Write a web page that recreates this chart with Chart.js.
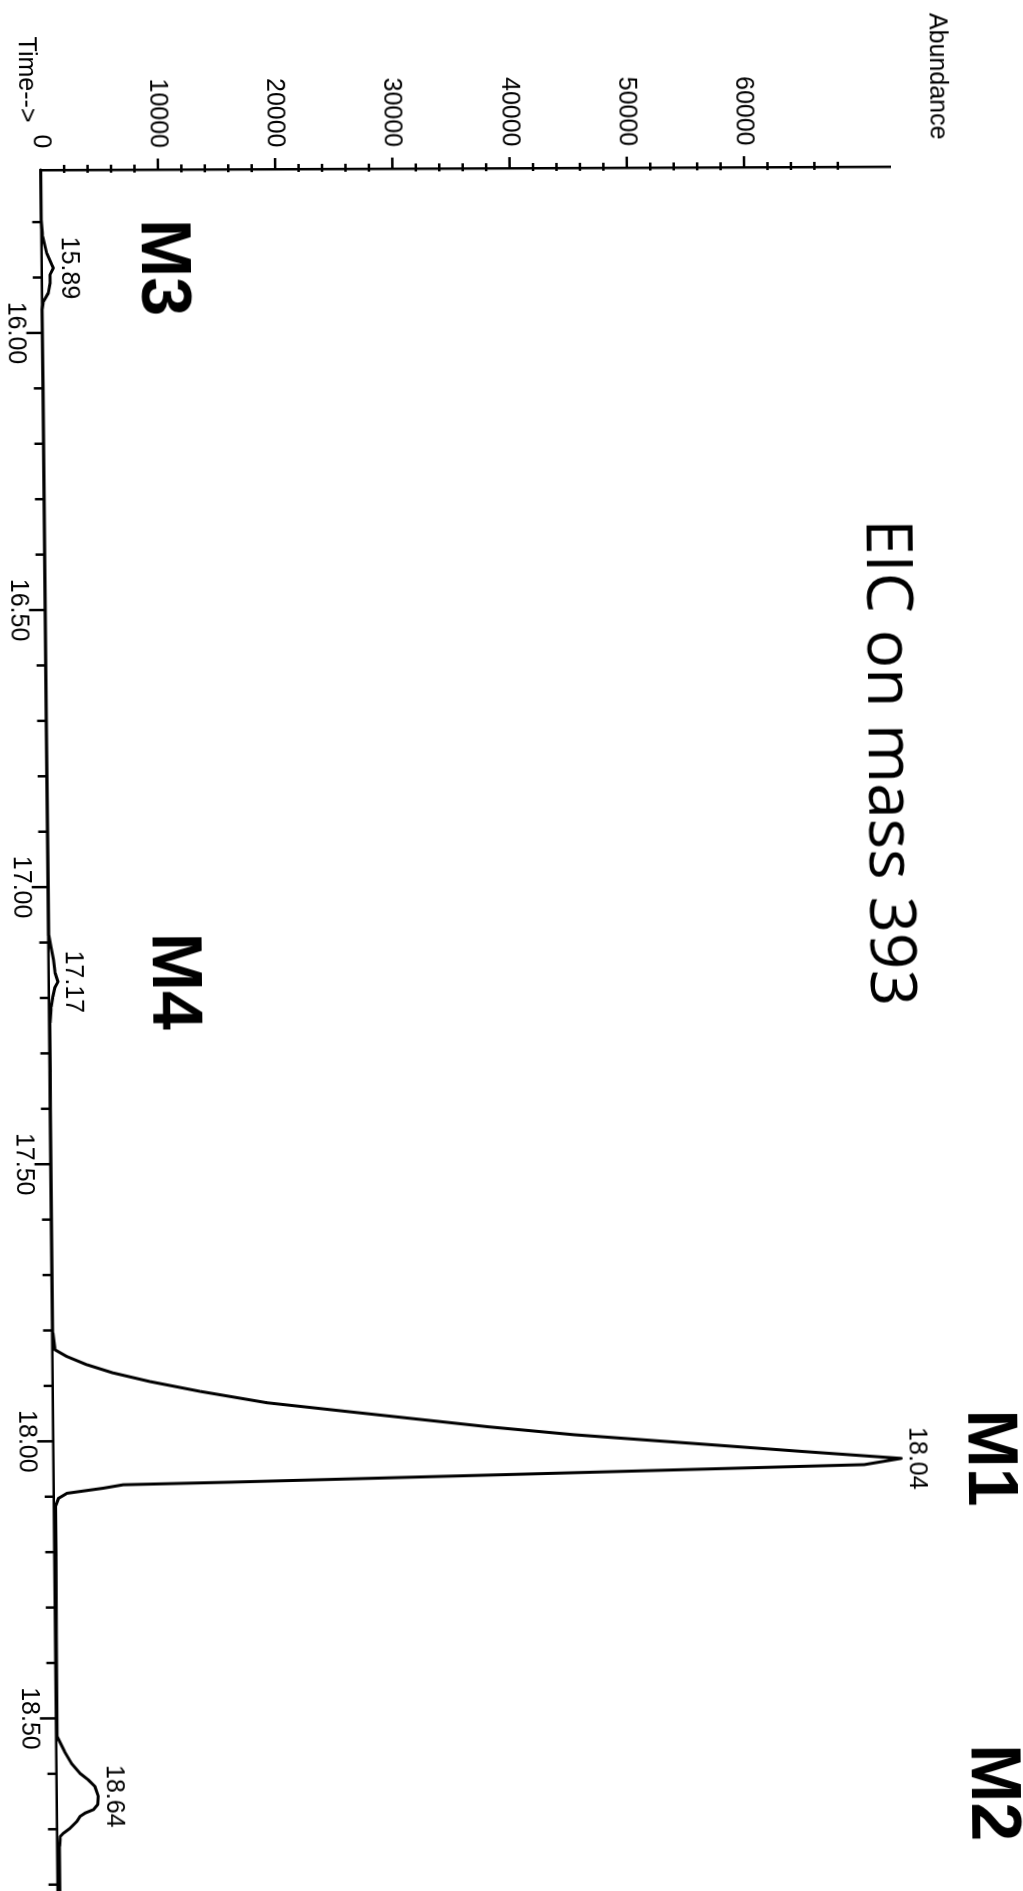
<!DOCTYPE html>
<html>
<head>
<meta charset="utf-8">
<script src="https://cdn.jsdelivr.net/npm/chart.js@4.4.0/dist/chart.umd.min.js"></script>
<style>
html,body{margin:0;padding:0;background:#fff;width:1023px;height:1891px;overflow:hidden;}
#wrap{position:absolute;left:0;top:0;width:1900px;height:1023px;transform-origin:0 0;
  transform:matrix(0.0098,1,-1,0.004,1021.33,-3.93);}
canvas{display:block;background:#fff;}
</style>
</head>
<body>
<div id="wrap"><canvas id="c" width="1900" height="1023"></canvas></div>
<script>
// ---- data (time in min, abundance in counts) ----
const retentionTime = [15.706,15.760,15.796,15.826,15.856,15.877,15.883,15.895,15.910,15.928,15.944,15.958,
  16.100,16.400,16.700,16.950,
  17.086,17.107,17.131,17.155,17.171,17.182,17.198,17.216,17.245,17.400,17.600,
  17.804,17.835,17.847,17.862,17.877,17.893,17.911,17.932,17.949,17.977,17.992,18.008,18.024,18.037,
  18.048,18.063,18.075,18.079,18.085,18.094,18.103,18.118,18.196,18.350,
  18.533,18.560,18.581,18.599,18.611,18.623,18.641,18.656,18.665,18.671,18.677,18.686,18.698,18.707,18.713,18.731,18.820];
const abundance = [0,0,0,115,440,860,990,710,700,550,110,0,
  20,30,30,40,
  40,220,430,560,790,510,340,200,100,50,50,
  60,230,1220,2920,5150,8310,12570,18250,25350,37120,44450,54260,64040,72330,
  69160,39460,15320,5930,4250,1130,410,150,150,120,
  100,710,1280,1990,2700,3270,3550,3500,3120,2420,1990,1710,1140,560,280,220,200];

const peakNames = ['M3','M4','M1','M2'];
const peakTimes = [15.89,17.17,18.04,18.64];
const peakTimeLabels = ['15.89','17.17','18.04','18.64'];

const timeTickValues = [16.0,16.5,17.0,17.5,18.0,18.5];
const timeTickLabels = ['16.00','16.50','17.00','17.50','18.00','18.50'];
const timeTickMarks = [15.8,15.9,16.0,16.1,16.2,16.3,16.4,16.5,16.6,16.7,16.8,16.9,17.0,17.1,17.2,17.3,17.4,
  17.5,17.6,17.7,17.8,17.9,18.0,18.1,18.2,18.3,18.4,18.5,18.6,18.7,18.8];

const abundanceTickValues = [0,10000,20000,30000,40000,50000,60000];
const abundanceTickLabels = ['0','10000','20000','30000','40000','50000','60000'];
const abundanceTickMarks = [2000,4000,6000,8000,10000,12000,14000,16000,18000,20000,22000,24000,26000,28000,
  30000,32000,34000,36000,38000,40000,42000,44000,46000,48000,50000,52000,54000,56000,58000,60000,
  62000,64000,66000,68000];

const titleText = 'EIC on mass 393';
const xAxisText = 'Time-->';
const yAxisText = 'Abundance';

// ---- drawing ----
const FONT = "'Liberation Sans', Arial, Helvetica, sans-serif";
const nameOffsets = {M3:120, M4:124, M1:934.5, M2:934.5};

function apexOf(t0){
  let best = -1, bi = 0;
  retentionTime.forEach((t,i)=>{ if (Math.abs(t-t0) < 0.05 && abundance[i] > best){ best = abundance[i]; bi = i; } });
  return {t: retentionTime[bi], a: abundance[bi]};
}

const decor = {
  id: 'decor',
  afterDraw(chart){
    const {ctx, scales:{x, y}, chartArea:a} = chart;
    ctx.save();
    ctx.strokeStyle = '#000';
    ctx.lineWidth = 2.5;
    const seg = (x1,y1,x2,y2)=>{ ctx.beginPath(); ctx.moveTo(x1,y1); ctx.lineTo(x2,y2); ctx.stroke(); };
    for (const v of timeTickMarks){
      const px = x.getPixelForValue(v);
      const major = timeTickValues.some(m => Math.abs(m - v) < 1e-6);
      seg(px, a.bottom, px, a.bottom + (major ? 16 : 9));
    }
    for (const v of abundanceTickMarks){
      const py = y.getPixelForValue(v);
      if (abundanceTickValues.includes(v)) seg(a.left - 11, py, a.left + 1, py);
      else seg(a.left - 5, py, a.left + 3, py);
    }
    ctx.fillStyle = '#000';
    peakNames.forEach((n,i)=>{
      const ap = apexOf(peakTimes[i]);
      const px = x.getPixelForValue(ap.t), py = y.getPixelForValue(ap.a);
      ctx.font = '25px ' + FONT; ctx.textAlign = 'center'; ctx.textBaseline = 'alphabetic';
      ctx.fillText(peakTimeLabels[i], px, py - 8.5);
      ctx.font = 'bold 70px ' + FONT; ctx.textBaseline = 'middle';
      ctx.fillText(n, px, a.bottom - nameOffsets[n]);
    });
    ctx.textBaseline = 'alphabetic';
    ctx.font = "64px 'Open Sans', sans-serif"; ctx.textAlign = 'center';
    ctx.fillText(titleText, 766, 160);
    ctx.font = '25px ' + FONT; ctx.textAlign = 'left';
    ctx.fillText(yAxisText, 16.6, 92.1);
    ctx.fillText(xAxisText, 36.6, 1003.1);
    ctx.restore();
  }
};

new Chart(document.getElementById('c'), {
  type: 'line',
  data: { datasets: [{
    data: retentionTime.map((t,i)=>({x:t, y:abundance[i]})),
    borderColor: '#000', borderWidth: 3, pointRadius: 0, tension: 0, fill: false, clip: false,
    borderJoinStyle: 'round', borderCapStyle: 'round'
  }]},
  options: {
    responsive: false, animation: false, devicePixelRatio: 1,
    layout: { padding: { top: 133, right: 4.2, left: 0, bottom: 0 } },
    plugins: { legend: {display:false}, tooltip: {enabled:false}, title: {display:false} },
    scales: {
      x: { type: 'linear', position: 'bottom', min: 15.706, max: 18.82,
        grid: { display: false, drawTicks: false },
        border: { display: true, color: '#000', width: 2.5 },
        ticks: { padding: 11.7, color: '#000', font: { family: FONT, size: 25 }, maxRotation: 0, minRotation: 0,
          autoSkip: false, callback: (v,i) => timeTickLabels[i] },
        afterBuildTicks: s => { s.ticks = timeTickValues.map(v => ({value: v})); },
        afterFit: s => { s.height = 40.7; } },
      y: { type: 'linear', position: 'left', min: 0, max: 72450,
        grid: { display: false, drawTicks: false },
        border: { display: true, color: '#000', width: 2.5 },
        ticks: { padding: 21.5, color: '#000', font: { family: FONT, size: 25 }, autoSkip: false,
          callback: (v,i) => abundanceTickLabels[i] },
        afterBuildTicks: s => { s.ticks = abundanceTickValues.map(v => ({value: v})); },
        afterFit: s => { s.width = 170; } }
    }
  },
  plugins: [decor]
});
</script>
</body>
</html>
